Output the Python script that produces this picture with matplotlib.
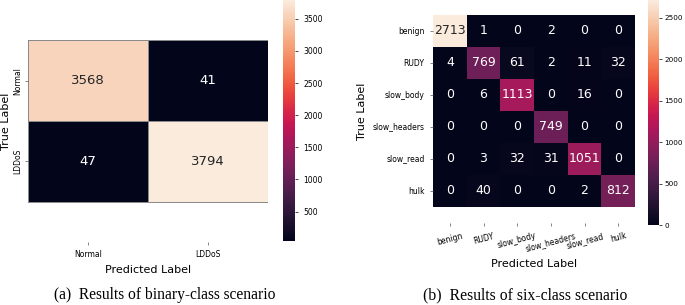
import numpy as np
import matplotlib
matplotlib.use("Agg")
import matplotlib.pyplot as plt
import seaborn as sns

# Binary-class confusion matrix
binary_labels = ["Normal", "LDDoS"]
binary_cm = [[3568, 41],
             [47, 3794]]

# Six-class confusion matrix
six_labels = ["benign", "RUDY", "slow_body", "slow_headers", "slow_read", "hulk"]
six_cm = [[2713, 1, 0, 2, 0, 0],
          [4, 769, 61, 2, 11, 32],
          [0, 6, 1113, 0, 16, 0],
          [0, 0, 0, 749, 0, 0],
          [0, 3, 32, 31, 1051, 0],
          [0, 40, 0, 0, 2, 812]]

W, H = 685, 305
fig = plt.figure(figsize=(W / 100, H / 100), dpi=100)


def frac(x0, y0, x1, y1):
    # pixel box (top-left origin) -> figure fraction rect
    return [x0 / W, 1 - y1 / H, (x1 - x0) / W, (y1 - y0) / H]


# (a) binary
ax1 = fig.add_axes(frac(28, 0, 268, 242))
cax1 = fig.add_axes(frac(283, 0, 295, 241))
sns.heatmap(np.array(binary_cm), annot=True, fmt="d", ax=ax1, cbar_ax=cax1,
            xticklabels=binary_labels, yticklabels=binary_labels,
            linewidths=0.6, linecolor="#8a8a8a",
            annot_kws={"fontsize": 9.5})
ax1.set_ylim(len(binary_labels) + 0.5, -0.5)
ax1.set_xlabel("Predicted Label", fontsize=8)
ax1.set_ylabel("True Label", fontsize=8)
ax1.yaxis.set_label_coords(-17 / 240, 0.5)
ax1.tick_params(labelsize=5.5, length=2.5, width=0.5, color="#555555")
ax1.tick_params(axis="y", pad=1.5)
plt.setp(ax1.get_yticklabels(), rotation=90, va="center")
cax1.tick_params(labelsize=5.5, length=2.5, width=0.5)

# (b) six-class
ax2 = fig.add_axes(frac(433, -1, 635, 223))
cax2 = fig.add_axes(frac(648, 0, 659, 225))
sns.heatmap(np.array(six_cm), annot=True, fmt="d", ax=ax2, cbar_ax=cax2,
            xticklabels=six_labels, yticklabels=six_labels,
            annot_kws={"fontsize": 9})
ax2.set_ylim(len(six_labels) + 0.5, -0.5)
ax2.set_xlabel("Predicted Label", fontsize=8)
ax2.set_ylabel("True Label", fontsize=8)
ax2.tick_params(labelsize=5.5, length=2.5, width=0.5, color="#555555")
plt.setp(ax2.get_xticklabels(), rotation=15, ha="center")
plt.setp(ax2.get_yticklabels(), rotation=0)
cax2.tick_params(labelsize=5.2, length=2.5, width=0.5, pad=1.5)

# captions
fig.text(165 / W, 1 - 295 / H, "(a)  Results of binary-class scenario",
         family="Liberation Serif", fontsize=11.2, ha="center", va="center")
fig.text(525 / W, 1 - 295 / H, "(b)  Results of six-class scenario",
         family="Liberation Serif", fontsize=11.3, ha="center", va="center")

fig.savefig("out.png", dpi=100)
